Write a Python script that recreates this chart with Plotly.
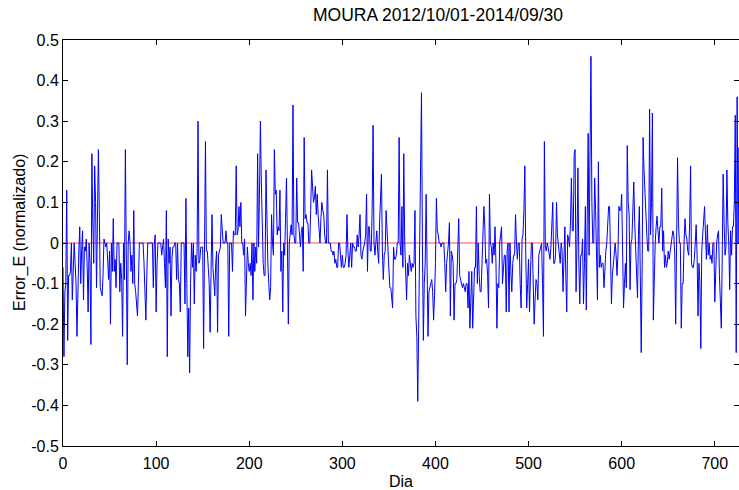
import plotly.graph_objects as go

# Normalised daily error, one value per day (2012/10/01 - 2014/09/30)
error_e = [
    -0.06, -0.28, -0.12, -0.1, 0.13, -0.24, -0.08, -0.08, -0.07, 0.0,
    -0.14, -0.06, 0.0, -0.05, -0.1, -0.23, -0.08, -0.02, 0.04, -0.1,
    -0.02, 0.03, -0.14, -0.01, -0.02, 0.01, -0.06, -0.17, 0.0, -0.05,
    -0.25, 0.22, 0.05, -0.05, 0.19, 0.1, -0.11, 0.05, 0.23, 0.08,
    -0.11, -0.12, -0.13, -0.08, 0.01, 0.0, -0.01, 0.0, -0.04, -0.09,
    -0.02, -0.2, 0.0, -0.07, 0.06, -0.07, -0.04, -0.11, 0.0, 0.0,
    0.0, -0.12, -0.05, -0.09, -0.23, 0.0, -0.09, 0.23, -0.08, -0.3,
    0.0, 0.03, 0.0, -0.07, -0.03, -0.1, 0.08, -0.1, -0.12, -0.15,
    -0.18, -0.1, 0.0, 0.0, 0.0, 0.0, 0.0, -0.05, -0.1, -0.19,
    -0.08, 0.0, 0.0, 0.0, 0.0, 0.0, 0.0, -0.11, 0.0, 0.02,
    -0.17, -0.05, 0.0, 0.0, 0.0, 0.0, -0.03, -0.01, 0.01, -0.05,
    -0.11, 0.08, -0.28, 0.01, -0.05, -0.01, -0.18, -0.04, -0.01, -0.01,
    0.0, 0.0, -0.09, 0.0, -0.09, -0.1, -0.17, 0.0, 0.0, 0.0,
    0.0, -0.15, 0.11, -0.1, -0.28, -0.16, -0.32, -0.1, 0.0, -0.06,
    0.0, -0.15, -0.03, -0.07, -0.02, 0.3, -0.05, -0.04, -0.01, -0.01,
    -0.01, -0.26, -0.05, 0.25, -0.02, -0.02, -0.06, -0.1, -0.22, -0.01,
    0.07, -0.06, -0.1, -0.13, -0.05, -0.02, -0.22, -0.03, -0.02, -0.01,
    0.07, 0.02, 0.0, 0.0, 0.0, 0.03, 0.0, 0.0, -0.23, 0.0,
    0.0, 0.0, -0.07, 0.03, 0.02, 0.02, 0.19, 0.02, 0.03, 0.09,
    0.04, 0.1, 0.0, 0.0, -0.03, 0.01, -0.18, -0.05, -0.01, -0.05,
    -0.07, -0.05, -0.08, 0.0, -0.14, 0.0, -0.07, -0.01, -0.05, 0.22,
    -0.01, 0.12, 0.3, 0.15, -0.01, -0.05, -0.08, -0.08, 0.18, 0.05,
    -0.05, -0.1, -0.14, -0.11, 0.07, 0.0, -0.03, 0.23, 0.12, 0.13,
    0.02, 0.04, 0.03, 0.13, -0.07, -0.02, -0.17, 0.0, -0.03, 0.06,
    0.16, 0.0, -0.2, 0.0, 0.02, 0.045, 0.02, 0.34, 0.02, 0.0,
    0.0, 0.16, 0.05, 0.05, 0.02, -0.01, 0.03, 0.04, -0.07, 0.26,
    0.06, 0.07, 0.05, 0.05, 0.0, 0.0, 0.08, 0.18, 0.14, 0.1,
    0.11, 0.14, 0.07, 0.12, 0.07, 0.03, 0.0, 0.06, 0.1, 0.08,
    0.07, 0.02, 0.0, 0.0, 0.18, 0.0, 0.0, 0.0, -0.02, -0.02,
    -0.03, -0.02, -0.05, -0.04, -0.06, -0.06, 0.0, 0.0, -0.03, -0.06,
    -0.03, -0.06, -0.06, -0.05, -0.03, 0.07, -0.02, -0.06, -0.03, 0.0,
    -0.06, 0.0, -0.01, -0.01, -0.02, -0.02, 0.02, -0.01, 0.02, 0.07,
    -0.03, -0.04, -0.02, -0.01, 0.0, 0.02, 0.12, -0.07, 0.04, 0.04,
    -0.02, -0.02, 0.08, 0.29, 0.0, -0.03, 0.0, 0.03, -0.02, -0.05,
    0.05, 0.1, 0.17, -0.02, -0.09, -0.03, -0.02, 0.08, 0.03, 0.0,
    -0.05, -0.11, -0.11, -0.14, -0.16, -0.01, -0.04, -0.04, -0.03, 0.0,
    0.0, 0.26, 0.0, -0.03, 0.09, -0.06, 0.22, 0.0, -0.07, -0.14,
    -0.05, -0.08, -0.03, -0.06, -0.07, -0.05, -0.06, -0.05, 0.08, -0.18,
    -0.23, -0.39, -0.23, -0.01, 0.12, 0.37, 0.0, -0.24, -0.1, -0.05,
    0.12, -0.06, -0.23, -0.12, -0.11, -0.1, -0.09, -0.12, -0.19, -0.13,
    -0.05, 0.11, 0.03, 0.02, 0.0, 0.0, -0.01, 0.0, 0.0, 0.0,
    -0.05, -0.12, -0.05, -0.03, 0.0, 0.05, -0.18, -0.02, -0.03, -0.05,
    -0.19, -0.1, -0.1, -0.09, -0.01, 0.06, -0.08, -0.09, -0.1, -0.11,
    -0.1, -0.11, -0.12, -0.1, -0.1, -0.16, -0.07, -0.21, -0.12, -0.07,
    -0.21, -0.11, -0.06, -0.06, 0.09, -0.1, 0.0, -0.08, -0.12, -0.12,
    -0.06, 0.0, 0.09, 0.04, -0.05, -0.04, -0.08, -0.16, 0.12, 0.0,
    -0.01, -0.05, 0.0, -0.03, 0.04, -0.05, -0.21, -0.1, -0.11, 0.0,
    0.02, 0.04, -0.1, -0.05, -0.03, -0.03, -0.17, -0.02, 0.0, -0.17,
    0.0, -0.07, -0.12, -0.05, -0.03, -0.03, 0.07, 0.0, -0.04, 0.0,
    0.0, -0.1, -0.16, 0.01, 0.02, 0.08, 0.19, -0.03, -0.16, -0.1,
    -0.04, -0.17, -0.05, 0.0, 0.0, -0.1, -0.2, -0.14, -0.09, -0.1,
    -0.14, -0.03, -0.02, -0.01, 0.0, -0.1, -0.23, 0.25, -0.01, -0.02,
    0.0, -0.01, -0.03, -0.04, -0.01, 0.05, 0.1, -0.05, -0.05, -0.03,
    0.1, 0.02, -0.01, -0.04, -0.05, 0.0, -0.02, -0.12, -0.04, 0.04,
    -0.08, -0.17, 0.02, 0.01, -0.01, 0.05, 0.16, 0.03, 0.03, 0.22,
    0.23, -0.12, 0.0, 0.185, -0.05, -0.15, -0.03, -0.03, 0.01, -0.15,
    -0.05, 0.09, -0.165, 0.05, 0.27, -0.03, 0.2, 0.46, 0.1, 0.0,
    0.0, 0.16, 0.08, -0.03, -0.14, 0.2, -0.06, -0.03, -0.06, -0.05,
    -0.05, -0.11, -0.05, -0.02, 0.0, 0.05, 0.09, 0.09, -0.03, -0.15,
    -0.08, -0.05, -0.01, 0.0, -0.03, -0.08, -0.03, 0.09, 0.08, 0.08,
    0.12, -0.05, -0.16, -0.1, -0.05, -0.11, 0.24, 0.1, 0.07, -0.115,
    0.0, 0.01, 0.08, 0.15, 0.05, -0.01, -0.06, -0.135, 0.02, 0.09,
    -0.08, -0.27, -0.06, 0.26, 0.18, 0.12, 0.05, 0.02, -0.02, -0.02,
    0.33, 0.02, 0.1, 0.32, -0.19, -0.05, 0.0, 0.04, 0.066, 0.03,
    0.0, 0.04, 0.04, 0.135, -0.02, 0.03, -0.06, -0.03, -0.06, -0.05,
    -0.02, -0.04, -0.02, 0.0, 0.02, 0.03, 0.02, -0.03, -0.2, 0.0,
    0.21, 0.05, 0.0, 0.0, -0.21, -0.1, -0.1, 0.0, 0.06, 0.02,
    0.01, -0.02, -0.03, 0.05, 0.19, -0.05, -0.06, -0.06, -0.04, 0.0,
    0.045, -0.03, -0.18, -0.05, -0.1, -0.26, -0.02, 0.02, 0.05, 0.09,
    0.02, -0.04, 0.045, -0.03, 0.0, -0.04, -0.03, -0.05, 0.0, 0.0,
    -0.145, -0.05, 0.0, 0.02, 0.03, -0.08, -0.14, -0.21, -0.03, 0.17,
    0.05, -0.03, -0.01, 0.18, 0.05, 0.0, -0.115, 0.03, -0.03, 0.04,
    0.04, 0.1, 0.315, -0.27, 0.36, 0.0, 0.235, 0.02,
]
days = list(range(len(error_e)))
reference_level = [0.0 for _ in days]

x_ticks = [0, 100, 200, 300, 400, 500, 600, 700]
y_ticks = [-0.5, -0.4, -0.3, -0.2, -0.1, 0.0, 0.1, 0.2, 0.3, 0.4, 0.5]
y_tick_text = ["-0.5", "-0.4", "-0.3", "-0.2", "-0.1", "0", "0.1", "0.2", "0.3", "0.4", "0.5"]

FONT = "Arial, Liberation Sans, sans-serif"

fig = go.Figure()
fig.add_trace(go.Scatter(x=days, y=reference_level, mode="lines",
                         line=dict(color="#ff0000", width=0.7), hoverinfo="skip"))
fig.add_trace(go.Scatter(x=days, y=error_e, mode="lines",
                         line=dict(color="#0000ff", width=1)))

axis_common = dict(showline=True, linecolor="black", linewidth=1, mirror="allticks",
                   ticks="inside", ticklen=5, tickcolor="black", showgrid=False,
                   zeroline=False, tickfont=dict(family=FONT, size=16, color="black"))

fig.update_layout(
    width=739, height=490,
    margin=dict(l=63, r=0, t=40, b=44),
    paper_bgcolor="white", plot_bgcolor="white",
    showlegend=False,
    font=dict(family=FONT, color="black"),
    title=dict(text="MOURA 2012/10/01-2014/09/30", x=438 / 739, xanchor="center",
               y=1 - 15 / 490, yanchor="middle",
               font=dict(family=FONT, size=17.5, color="black")),
    xaxis=dict(range=[0, 726], tickvals=x_ticks, ticktext=[str(v) for v in x_ticks],
               ticklabelstandoff=3, **axis_common),
    yaxis=dict(range=[-0.5, 0.5], tickvals=y_ticks, ticktext=y_tick_text,
               **axis_common),
    annotations=[
        dict(text="Error_E (normalizado)", xref="paper", yref="paper", x=0, y=0.5,
             xanchor="center", yanchor="middle", xshift=-43, yshift=10, textangle=-90,
             showarrow=False, font=dict(family=FONT, size=16, color="black")),
        dict(text="Dia", xref="paper", yref="paper", x=0.5, y=0,
             xanchor="center", yanchor="middle", yshift=-35,
             showarrow=False, font=dict(family=FONT, size=16, color="black")),
    ],
)

fig.write_html("out.html")
